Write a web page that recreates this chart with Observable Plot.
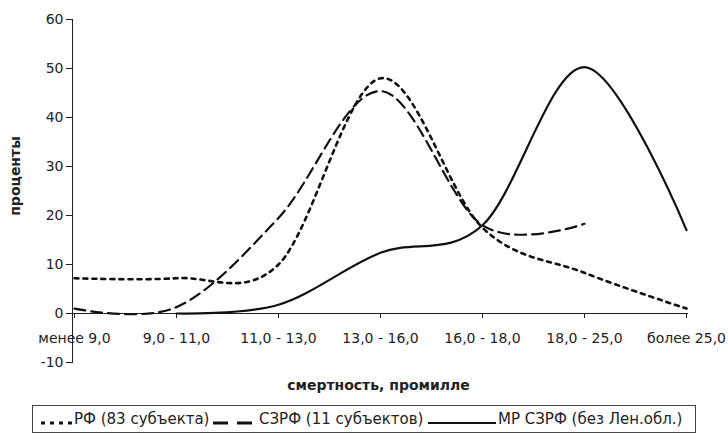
<!DOCTYPE html>
<html>
<head>
<meta charset="utf-8">
<script src="https://cdn.jsdelivr.net/npm/d3@7"></script>
<script src="https://cdn.jsdelivr.net/npm/@observablehq/plot@0.6"></script>
<style>
  html, body { margin: 0; padding: 0; background: #fff; }
  #wrap { position: relative; width: 728px; height: 444px; overflow: hidden; font-family: "DejaVu Sans", sans-serif; color: #222; }
  #legend { position: absolute; left: 32px; top: 405px; width: 664px; height: 28px; border: 1px solid #444; box-sizing: border-box; font-size: 15px; }
  .sample { position: absolute; top: 8px; }
  .label { position: absolute; top: 0; height: 26px; line-height: 26px; white-space: nowrap; }
</style>
</head>
<body>
<div id="wrap">
  <div id="chart"></div>
  <div id="legend"></div>
</div>
<script>
const categories = ["менее 9,0", "9,0 - 11,0", "11,0 - 13,0", "13,0 - 16,0", "16,0 - 18,0", "18,0 - 25,0", "более 25,0"];
const rf   = [7.2, 7.2, 10.0, 48.0, 17.5, 8.3, 1.0];
const szrf = [1.0, 1.3, 19.5, 45.4, 18.0, 18.3, null];
const mr   = [null, 0.0, 1.8, 12.4, 18.0, 50.3, 17.0];
const yTicks = [-10, 0, 10, 20, 30, 40, 50, 60];
const seriesNames = ["РФ (83 субъекта)", "СЗРФ (11 субъектов)", "МР СЗРФ (без Лен.обл.)"];
const xTitle = "смертность, промилле";
const yTitle = "проценты";

const dashes = ["4,5", "11,6", null];
const widths = [2.6, 2.2, 2.2];
const seriesValues = [rf, szrf, mr];

const toRows = (vals) => categories.map((c, i) => ({cat: c, v: vals[i]})).filter(d => d.v != null);

const lineMarks = seriesValues.map((vals, k) =>
  Plot.line(toRows(vals), {
    x: "cat", y: "v", curve: "cardinal",
    stroke: "#111", strokeWidth: widths[k],
    strokeDasharray: dashes[k] || undefined
  })
);

const chart = Plot.plot({
  width: 728, height: 400,
  marginLeft: 72, marginRight: 40, marginTop: 19, marginBottom: 38,
  style: {fontFamily: "DejaVu Sans, sans-serif", fontSize: "14px", color: "#222", background: "#fff"},
  x: {type: "point", domain: categories, padding: 0, axis: null},
  y: {domain: [-10, 60], axis: null},
  marks: [
    Plot.axisY({ticks: yTicks, tickSize: 6, tickPadding: 3, tickFormat: d => String(d), fontSize: 14, stroke: "#222", label: null}),
    Plot.frame({anchor: "left", stroke: "#222"}),
    Plot.ruleY([0], {stroke: "#222"}),
    Plot.ruleX(categories, {x: d => d, y1: 0, y2: 0, insetBottom: -5, stroke: "#222"}),
    Plot.text(categories, {x: d => d, y: 0, dy: 25, fontSize: 14, fill: "#222"}),
    ...lineMarks,
    Plot.text([xTitle], {frameAnchor: "bottom", dy: 27, dx: -2, fontWeight: "bold", fontSize: 14, fill: "#222"}),
    Plot.text([yTitle], {frameAnchor: "left", dx: -57, dy: -15, rotate: -90, textAnchor: "middle", fontWeight: "bold", fontSize: 14, fill: "#222"})
  ]
});
document.getElementById("chart").appendChild(chart);

// legend
const legend = document.getElementById("legend");
const legendLayout = [
  {sampleLeft: 8, sampleW: 33, textLeft: 41, dash: "4,5", sw: 3},
  {sampleLeft: 180, sampleW: 42, textLeft: 226, dash: "15,9", sw: 3},
  {sampleLeft: 395, sampleW: 68, textLeft: 465, dash: null, sw: 2}
];
seriesNames.forEach((name, k) => {
  const L = legendLayout[k];
  const s = document.createElement("div");
  s.className = "sample";
  s.style.left = L.sampleLeft + "px";
  s.innerHTML = `<svg width="${L.sampleW}" height="10"><line x1="0" y1="5" x2="${L.sampleW}" y2="5" stroke="#111" stroke-width="${L.sw}" ${L.dash ? `stroke-dasharray="${L.dash}"` : ""}></line></svg>`;
  legend.appendChild(s);
  const t = document.createElement("div");
  t.className = "label";
  t.style.left = L.textLeft + "px";
  t.textContent = name;
  legend.appendChild(t);
});
</script>
</body>
</html>
